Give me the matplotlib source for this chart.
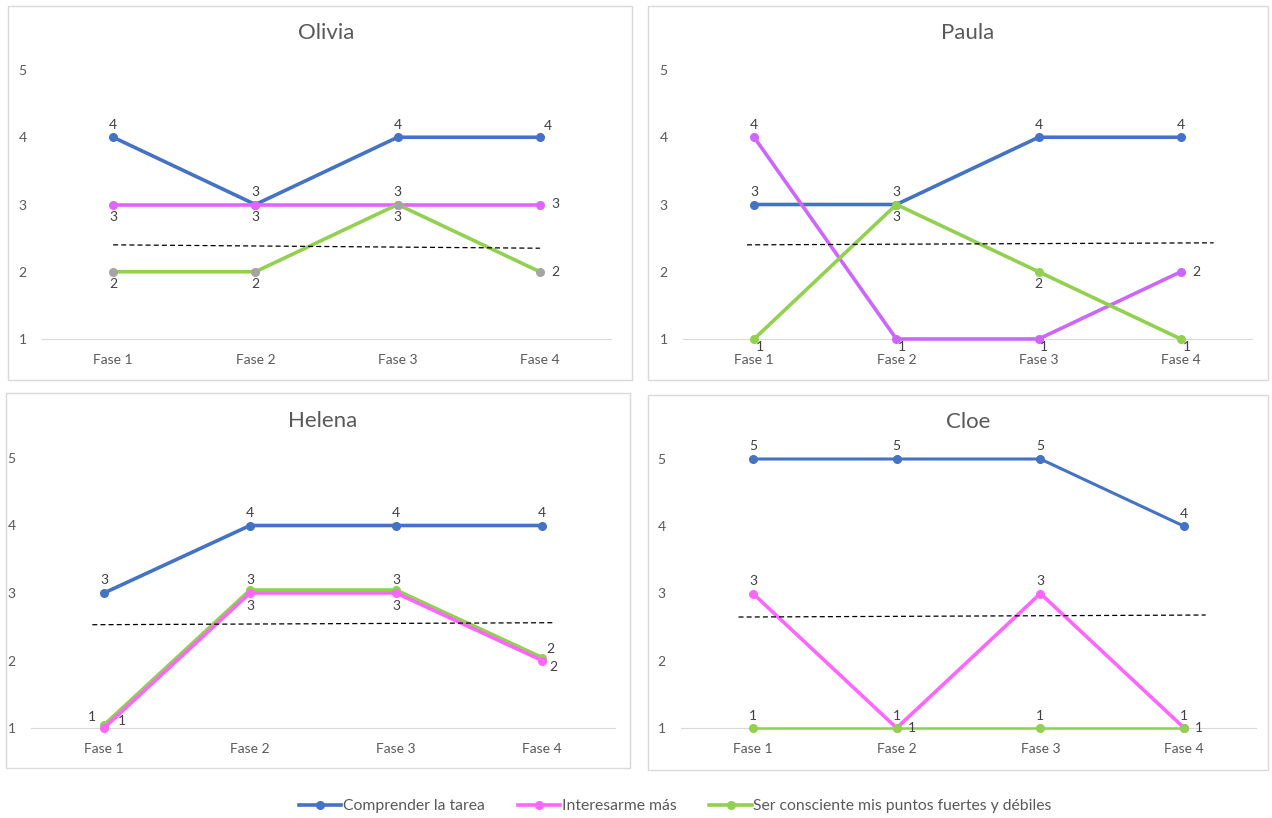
import matplotlib.pyplot as plt
from matplotlib.lines import Line2D
from matplotlib.patches import Rectangle
import matplotlib.transforms as mtransforms

plt.rcParams['font.family'] = ['Lato', 'DejaVu Sans']

fases = ['Fase 1', 'Fase 2', 'Fase 3', 'Fase 4']
series_names = ['Comprender la tarea', 'Interesarme más',
                'Ser consciente mis puntos fuertes y débiles']
nombres = ['Olivia', 'Paula', 'Helena', 'Cloe']

# values per student: [comprender, interesarme, consciente]
olivia = [[4, 3, 4, 4], [3, 3, 3, 3], [2, 2, 3, 2]]
paula = [[3, 3, 4, 4], [4, 1, 1, 2], [1, 3, 2, 1]]
helena = [[3, 4, 4, 4], [1, 3, 3, 2], [1, 3, 3, 2]]
cloe = [[5, 5, 5, 4], [3, 1, 3, 1], [1, 1, 1, 1]]

# dashed trend line (start x, end x, start y, end y)
olivia_trend = [1.0, 4.0, 2.40, 2.35]
paula_trend = [0.95, 4.23, 2.40, 2.43]
helena_trend = [0.92, 4.08, 2.53, 2.56]
cloe_trend = [0.90, 4.15, 2.65, 2.68]

datos = [olivia, paula, helena, cloe]
trends = [olivia_trend, paula_trend, helena_trend, cloe_trend]

# label placement codes, see offsets below
label_pos = [
    [['a', 'a', 'a', 'ar'], ['b', 'b', 'a', 'r'], ['b', 'b', 'b', 'r']],
    [['a', 'a', 'a', 'a'], ['a', 'lo', 'lo', 'r'], ['lo', 'b', 'b', 'lo']],
    [['a', 'a', 'a', 'a'], ['rr', 'b', 'b', 'br'], ['al', 'a', 'a', 'ar']],
    [['a', 'a', 'a', 'a'], ['a', 'r', 'a', 'r'], ['a', 'a', 'a', 'a']],
]
offsets = {'a': (0, 9), 'b': (0, -9), 'r': (11, 0), 'br': (8, -5),
           'ar': (6, 8), 'al': (-9, 8), 'rr': (13, 5), 'lo': (4, -6)}

blue = '#4472c4'
green = '#92d050'
pinks = ['#dd66ff', '#cc66ff', '#ff66ff', '#ff66ff']
green_markers = ['#a5a5a5', green, green, green]
widths = [[2.6, 2.6, 2.6], [2.6, 2.6, 2.6], [2.6, 2.6, 2.6], [2.2, 2.6, 1.8]]

W, H = 1272, 818
axes_px = [(42, 70, 611, 339), (683, 70, 1252, 339),
           (31, 458, 615, 728), (681, 459, 1256, 728)]
boxes_px = [(8, 6, 632, 380), (648, 6, 1268, 380),
            (6, 393, 630, 768), (648, 395, 1268, 770)]

fig = plt.figure(figsize=(W / 100, H / 100), dpi=100)

for (x0, y0, x1, y1) in boxes_px:
    fig.patches.append(Rectangle((x0 / W, 1 - y1 / H), (x1 - x0) / W, (y1 - y0) / H,
                                 transform=fig.transFigure, fill=False,
                                 edgecolor='#d9d9d9', linewidth=1))

x = [1, 2, 3, 4]
for i, nombre in enumerate(nombres):
    x0, y0, x1, y1 = axes_px[i]
    ax = fig.add_axes([x0 / W, 1 - y1 / H, (x1 - x0) / W, (y1 - y0) / H])
    colors = [blue, pinks[i], green]
    mcolors = [blue, pinks[i], green_markers[i]]
    order = [0, 2, 1] if i == 2 else [0, 1, 2]
    for j in order:
        vals = datos[i][j]
        tr = ax.transData
        if i == 2 and j == 2:
            tr = ax.transData + mtransforms.ScaledTranslation(0, 3 / 100, fig.dpi_scale_trans)
        ax.plot(x, vals, color=colors[j], linewidth=widths[i][j], marker='o',
                markersize=5.5, markerfacecolor=mcolors[j], markeredgecolor=mcolors[j],
                clip_on=False, zorder=3, transform=tr)
        for k in range(4):
            ax.annotate(str(vals[k]), (x[k], vals[k]), xytext=offsets[label_pos[i][j][k]],
                        textcoords='offset points', ha='center', va='center',
                        fontsize=10, color='#404040', zorder=5)
    t = trends[i]
    ax.plot([t[0], t[1]], [t[2], t[3]], color='black', linestyle='--',
            linewidth=0.9, dashes=(4, 2.5), zorder=4)
    ax.set_xlim(0.5, 4.5)
    ax.set_ylim(1, 5)
    ax.set_xticks(x)
    ax.set_xticklabels(fases)
    ax.set_yticks([1, 2, 3, 4, 5])
    ax.tick_params(axis='both', length=0, labelsize=10, labelcolor='#595959')
    ax.tick_params(axis='y', pad=11)
    ax.tick_params(axis='x', pad=11)
    for s in ['top', 'right', 'left']:
        ax.spines[s].set_visible(False)
    ax.spines['bottom'].set_color('#d9d9d9')
    ax.patch.set_visible(False)
    ax.set_title(nombre, fontsize=16, color='#595959', pad=22)

handles = [Line2D([0], [0], color=c, linewidth=2.6, marker='o', markersize=5.5)
           for c in [blue, '#ff66ff', green]]
fig.legend(handles, series_names, loc='center', bbox_to_anchor=(0.531, 1 - 806 / H),
           ncol=3, frameon=False, fontsize=11.3, labelcolor='#595959',
           handlelength=2.7, handletextpad=0.1, columnspacing=2.1)

fig.savefig('out.png', dpi=100)
